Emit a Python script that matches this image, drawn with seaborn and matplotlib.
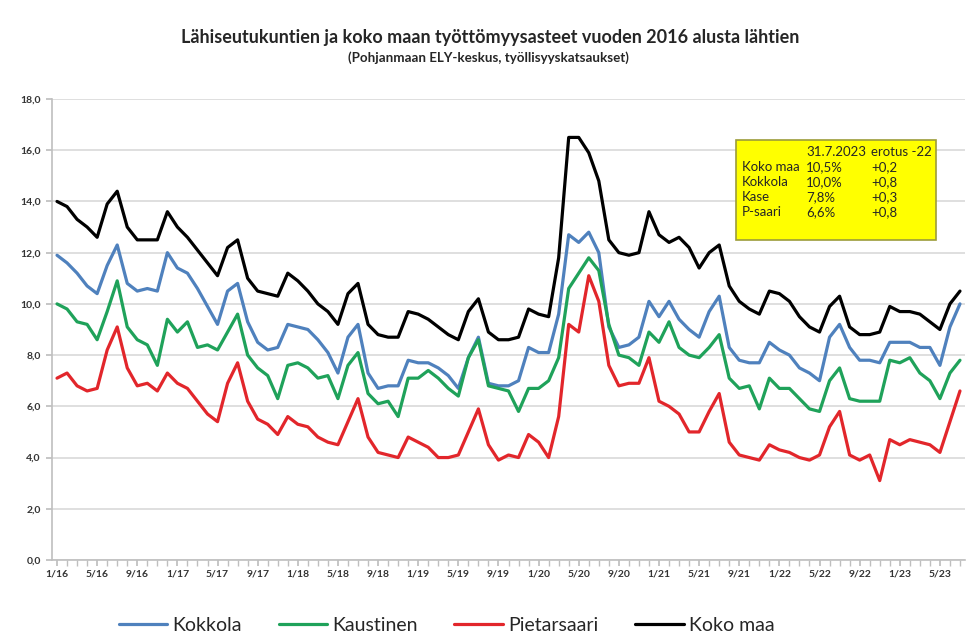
import numpy as np
import pandas as pd
import seaborn as sns
import matplotlib.pyplot as plt
from matplotlib.patches import Rectangle
from matplotlib.ticker import FuncFormatter

# kuukausittaiset työttömyysasteet 1/2016 - 7/2023 (%)
tick_labels = ['1/16', '5/16', '9/16', '1/17', '5/17', '9/17', '1/18', '5/18', '9/18',
               '1/19', '5/19', '9/19', '1/20', '5/20', '9/20', '1/21', '5/21', '9/21',
               '1/22', '5/22', '9/22', '1/23', '5/23']

koko_maa = [14.0, 13.8, 13.3, 13.0, 12.6, 13.9, 14.4, 13.0, 12.5, 12.5, 12.5, 13.6, 13.0, 12.6, 12.1, 11.6,
            11.1, 12.2, 12.5, 11.0, 10.5, 10.4, 10.3, 11.2, 10.9, 10.5, 10.0, 9.7, 9.2, 10.4, 10.8,
            9.2, 8.8, 8.7, 8.7, 9.7, 9.6, 9.4, 9.1, 8.8, 8.6, 9.7, 10.2, 8.9, 8.6, 8.6,
            8.7, 9.8, 9.6, 9.5, 11.8, 16.5, 16.5, 15.9, 14.8, 12.5, 12.0, 11.9, 12.0, 13.6, 12.7,
            12.4, 12.6, 12.2, 11.4, 12.0, 12.3, 10.7, 10.1, 9.8, 9.6, 10.5, 10.4, 10.1, 9.5, 9.1,
            8.9, 9.9, 10.3, 9.1, 8.8, 8.8, 8.9, 9.9, 9.7, 9.7, 9.6, 9.3, 9.0, 10.0, 10.5]

kokkola = [11.9, 11.6, 11.2, 10.7, 10.4, 11.5, 12.3, 10.8, 10.5, 10.6, 10.5, 12.0, 11.4, 11.2, 10.6, 9.9,
           9.2, 10.5, 10.8, 9.3, 8.5, 8.2, 8.3, 9.2, 9.1, 9.0, 8.6, 8.1, 7.3, 8.7, 9.2,
           7.3, 6.7, 6.8, 6.8, 7.8, 7.7, 7.7, 7.5, 7.2, 6.7, 7.9, 8.7, 6.9, 6.8, 6.8,
           7.0, 8.3, 8.1, 8.1, 9.6, 12.7, 12.4, 12.8, 12.0, 9.1, 8.3, 8.4, 8.7, 10.1, 9.5,
           10.1, 9.4, 9.0, 8.7, 9.7, 10.3, 8.3, 7.8, 7.7, 7.7, 8.5, 8.2, 8.0, 7.5, 7.3,
           7.0, 8.7, 9.2, 8.3, 7.8, 7.8, 7.7, 8.5, 8.5, 8.5, 8.3, 8.3, 7.6, 9.1, 10.0]

kaustinen = [10.0, 9.8, 9.3, 9.2, 8.6, 9.7, 10.9, 9.1, 8.6, 8.4, 7.6, 9.4, 8.9, 9.3, 8.3, 8.4,
             8.2, 8.9, 9.6, 8.0, 7.5, 7.2, 6.3, 7.6, 7.7, 7.5, 7.1, 7.2, 6.3, 7.6, 8.1,
             6.5, 6.1, 6.2, 5.6, 7.1, 7.1, 7.4, 7.1, 6.7, 6.4, 7.9, 8.6, 6.8, 6.7, 6.6,
             5.8, 6.7, 6.7, 7.0, 7.9, 10.6, 11.2, 11.8, 11.3, 9.2, 8.0, 7.9, 7.6, 8.9, 8.5,
             9.3, 8.3, 8.0, 7.9, 8.3, 8.8, 7.1, 6.7, 6.8, 5.9, 7.1, 6.7, 6.7, 6.3, 5.9,
             5.8, 7.0, 7.5, 6.3, 6.2, 6.2, 6.2, 7.8, 7.7, 7.9, 7.3, 7.0, 6.3, 7.3, 7.8]

pietarsaari = [7.1, 7.3, 6.8, 6.6, 6.7, 8.2, 9.1, 7.5, 6.8, 6.9, 6.6, 7.3, 6.9, 6.7, 6.2, 5.7,
               5.4, 6.9, 7.7, 6.2, 5.5, 5.3, 4.9, 5.6, 5.3, 5.2, 4.8, 4.6, 4.5, 5.4, 6.3,
               4.8, 4.2, 4.1, 4.0, 4.8, 4.6, 4.4, 4.0, 4.0, 4.1, 5.0, 5.9, 4.5, 3.9, 4.1,
               4.0, 4.9, 4.6, 4.0, 5.6, 9.2, 8.9, 11.1, 10.1, 7.6, 6.8, 6.9, 6.9, 7.9, 6.2,
               6.0, 5.7, 5.0, 5.0, 5.8, 6.5, 4.6, 4.1, 4.0, 3.9, 4.5, 4.3, 4.2, 4.0, 3.9,
               4.1, 5.2, 5.8, 4.1, 3.9, 4.1, 3.1, 4.7, 4.5, 4.7, 4.6, 4.5, 4.2, 5.4, 6.6]

sarjat = ['Kokkola', 'Kaustinen', 'Pietarsaari', 'Koko maa']
varit = ['#4F81BD', '#1FA25A', '#E2262B', '#000000']

# keltainen laatikko
laatikko_otsikko = ['', '31.7.2023', 'erotus -22']
laatikko_rivit = [['Koko maa', '10,5%', '+0,2'],
                  ['Kokkola', '10,0%', '+0,8'],
                  ['Kase', '7,8%', '+0,3'],
                  ['P-saari', '6,6%', '+0,8']]

kk = np.arange(len(koko_maa))
df = pd.DataFrame({
    'kk': np.tile(kk, 4),
    'arvo': kokkola + kaustinen + pietarsaari + koko_maa,
    'sarja': np.repeat(sarjat, len(kk)),
})

sns.set_theme(style='white')
plt.rcParams['font.family'] = ['Lato', 'DejaVu Sans']

W, H = 972, 640
fig = plt.figure(figsize=(W / 100, H / 100), dpi=100)
ax = fig.add_axes([52 / W, 1 - 560 / H, (965 - 52) / W, (560 - 99) / H])

sns.lineplot(data=df, x='kk', y='arvo', hue='sarja', hue_order=sarjat,
             palette=varit, linewidth=2.3, ax=ax)

ax.set_xlim(-0.5, len(kk) - 0.5)
ax.set_ylim(0, 18)
ax.set_yticks(np.arange(0, 18.1, 2))
ax.yaxis.set_major_formatter(FuncFormatter(lambda v, p: f'{v:.1f}'.replace('.', ',')))
ax.set_xticks(kk[::4])
ax.set_xticklabels(tick_labels)
ax.set_xticks(kk, minor=True)
ax.set_xlabel('')
ax.set_ylabel('')

ax.yaxis.grid(True, color='#D9D9D9', linewidth=1.2)
ax.set_axisbelow(True)
for s in ['top', 'right']:
    ax.spines[s].set_visible(False)
for s in ['left', 'bottom']:
    ax.spines[s].set_color('#BFBFBF')
    ax.spines[s].set_linewidth(1.2)

ax.tick_params(axis='x', which='both', bottom=True, direction='out', length=4,
               color='#BFBFBF', pad=3)
ax.tick_params(axis='y', left=True, direction='out', length=4, color='#BFBFBF', pad=4)
for lab in ax.get_xticklabels() + ax.get_yticklabels():
    lab.set_fontsize(7.5)
    lab.set_fontweight('bold')
    lab.set_color('#333333')

sns.move_legend(ax, 'center', bbox_to_anchor=(0.432, -0.142), ncol=4, frameon=False,
                title=None, fontsize=14, handlelength=2.5, columnspacing=1.9,
                handletextpad=0.25)

fig.text(490 / W, 1 - 37 / H,
         'Lähiseutukuntien ja koko maan työttömyysasteet vuoden 2016 alusta lähtien',
         ha='center', va='center', fontsize=13, fontweight='bold')
fig.text(488 / W, 1 - 58 / H, '(Pohjanmaan ELY-keskus, työllisyyskatsaukset)',
         ha='center', va='center', fontsize=9.6, fontweight='bold')

# laatikko
fig.patches.append(Rectangle((736 / W, 1 - 240 / H), 200 / W, 100 / H,
                             transform=fig.transFigure, facecolor='#FFFF00',
                             edgecolor='#9C9C3A', linewidth=1.2, zorder=5))
sarake_x = [742, 806, 871]
rivi_y = [152, 167, 182, 197, 212]
for j, teksti in enumerate(laatikko_otsikko):
    fig.text(sarake_x[j] / W, 1 - rivi_y[0] / H, teksti, ha='left', va='center',
             fontsize=9.5, zorder=6)
for i, rivi in enumerate(laatikko_rivit):
    for j, teksti in enumerate(rivi):
        fig.text(sarake_x[j] / W, 1 - rivi_y[i + 1] / H, teksti, ha='left', va='center',
                 fontsize=9.5, zorder=6)

fig.savefig('out.png', dpi=100)
